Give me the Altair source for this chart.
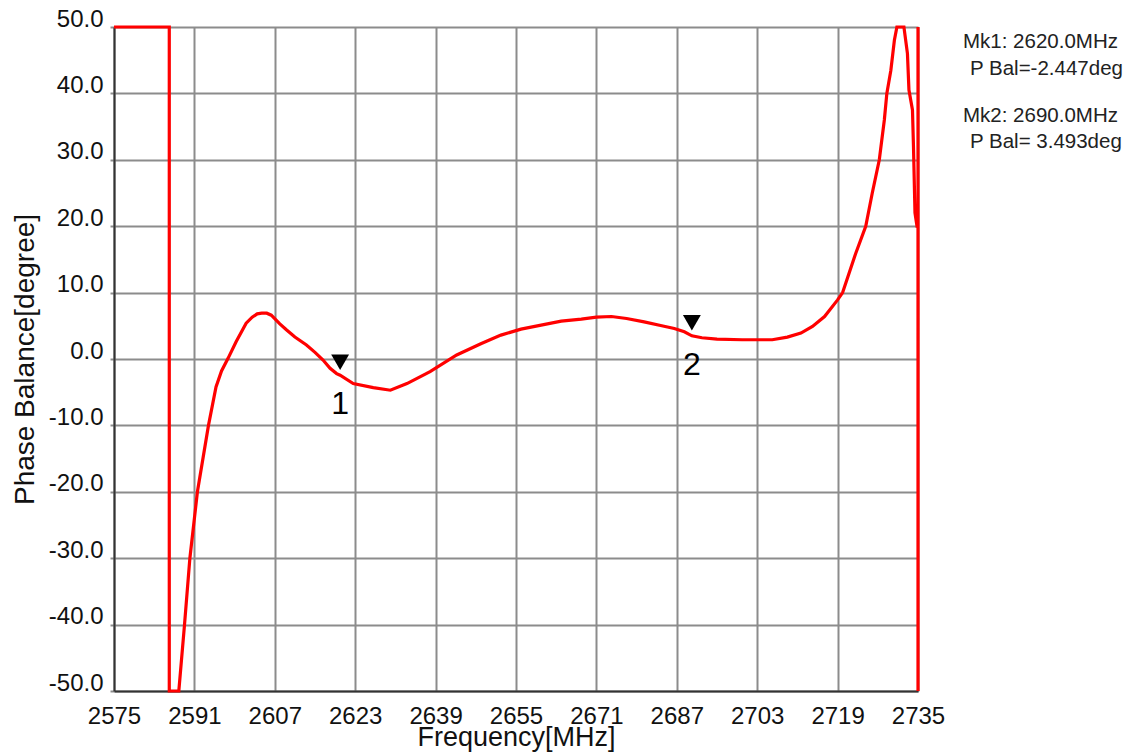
import altair as alt
import pandas as pd

# ---- data ----
freq = [2575.0, 2586.0, 2586.0, 2587.9, 2589.0, 2590.1, 2591.6, 2593.8, 2595.3, 2596.4,
        2597.7, 2599.3, 2601.3, 2602.5, 2603.5, 2604.4, 2605.4, 2606.3, 2608.0, 2609.3,
        2611.0, 2613.3, 2615.0, 2616.6, 2618.0, 2619.3, 2620.0, 2622.6, 2626.6, 2630.0,
        2633.3, 2637.9, 2643.2, 2648.0, 2652.0, 2656.0, 2660.0, 2664.0, 2668.0, 2671.0,
        2674.0, 2677.0, 2680.5, 2684.0, 2686.5, 2688.5, 2690.0, 2692.0, 2695.0, 2700.0,
        2706.0, 2709.0, 2711.7, 2714.0, 2716.4, 2719.0, 2720.0, 2722.6, 2724.6, 2725.9,
        2727.3, 2728.3, 2728.8, 2729.6, 2730.3, 2730.8, 2732.2, 2732.9, 2733.2, 2733.9,
        2734.1, 2734.4, 2734.8, 2735.0, 2735.0, 2735.0]
phase = [50.0, 50.0, -50.0, -50.0, -40.3, -30.0, -20.0, -10.0, -4.2, -1.8,
         0.1, 2.6, 5.4, 6.3, 6.8, 6.9, 6.9, 6.6, 5.3, 4.4,
         3.3, 2.1, 1.0, -0.15, -1.4, -2.2, -2.447, -3.7, -4.3, -4.7,
         -3.7, -1.9, 0.6, 2.3, 3.6, 4.5, 5.1, 5.7, 6.0, 6.3,
         6.4, 6.1, 5.6, 5.0, 4.6, 4.1, 3.493, 3.2, 3.0, 2.9,
         2.9, 3.3, 3.9, 4.9, 6.4, 8.9, 10.0, 15.9, 20.0, 25.0,
         30.0, 36.0, 40.0, 43.5, 48.0, 50.0, 50.0, 46.0, 40.5, 37.5,
         32.0, 22.0, 20.0, 20.0, 50.0, -50.0]

marker_freq = [2620.0, 2690.0]
marker_phase = [-2.447, 3.493]
marker_name = ["1", "2"]

x_ticks = [2575, 2591, 2607, 2623, 2639, 2655, 2671, 2687, 2703, 2719, 2735]
y_ticks = [-50, -40, -30, -20, -10, 0, 10, 20, 30, 40, 50]

mk_lines = []
for i, (f, p) in enumerate(zip(marker_freq, marker_phase), start=1):
    mk_lines.append(f"Mk{i}: {f:.1f}MHz")
    mk_lines.append(f"P Bal={p: .3f}deg")

curve = pd.DataFrame({"freq": freq, "phase": phase, "idx": list(range(len(freq)))})
markers = pd.DataFrame({"freq": marker_freq, "phase": marker_phase, "name": marker_name})

FONT = "Liberation Sans"
x_scale = alt.Scale(domain=[2575, 2735], nice=False, zero=False)
y_scale = alt.Scale(domain=[-50, 50], nice=False, zero=False)

x_axis = alt.Axis(values=x_ticks, format="d", title="Frequency[MHz]",
                  grid=True, gridColor="#8c8c8c", gridWidth=2,
                  tickSize=0, labelPadding=32, labelBaseline="alphabetic",
                  labelFontSize=24, labelFont=FONT, labelColor="#111",
                  labelFlush=False, labelOverlap=False,
                  titleFont=FONT, titleFontSize=27, titleFontWeight="normal",
                  titleColor="#111", titleBaseline="alphabetic", titleY=54,
                  domainColor="#333", domainWidth=2)
y_axis = alt.Axis(values=y_ticks, title="Phase Balance[degree]",
                  labelExpr="datum.value < 0 ? '-' + format(-datum.value, '.1f') : format(datum.value, '.1f')",
                  grid=True, gridColor="#8c8c8c", gridWidth=2,
                  tickSize=4, tickColor="#8c8c8c", tickWidth=2,
                  labelPadding=7, labelBaseline="alphabetic", labelOffset=-1,
                  labelFontSize=24, labelFont=FONT, labelColor="#111",
                  labelFlush=False, labelOverlap=False,
                  titleFont=FONT, titleFontSize=28, titleFontWeight="normal",
                  titleColor="#111", titleBaseline="alphabetic", titleAngle=270,
                  titleX=-81, titleY=332,
                  domainColor="#333", domainWidth=2)

line = alt.Chart(curve).mark_line(color="#ff0000", strokeWidth=3.2).encode(
    x=alt.X("freq:Q", scale=x_scale, axis=x_axis),
    y=alt.Y("phase:Q", scale=y_scale, axis=y_axis),
    order="idx:Q",
)

tri = alt.Chart(markers).mark_point(shape="triangle-down", filled=True, color="black",
                                    opacity=1, size=320, yOffset=-13).encode(
    x=alt.X("freq:Q", scale=x_scale), y=alt.Y("phase:Q", scale=y_scale))

lab = alt.Chart(markers).mark_text(dy=29, fontSize=32, font=FONT, color="black").encode(
    x=alt.X("freq:Q", scale=x_scale), y=alt.Y("phase:Q", scale=y_scale), text="name:N")

ann_layers = []
ann_pos = [(849, 21), (856, 48), (849, 95), (856, 121)]
for s, (px, py) in zip(mk_lines, ann_pos):
    ann_layers.append(
        alt.Chart(pd.DataFrame({"t": [s]})).mark_text(
            align="left", baseline="alphabetic", font=FONT, fontSize=20.5, color="#222"
        ).encode(x=alt.value(px), y=alt.value(py), text="t:N")
    )

chart = alt.layer(line, tri, lab, *ann_layers).properties(
    width=804, height=664,
    padding={"left": 106, "top": 19, "right": 208, "bottom": 62},
    autosize=alt.AutoSizeParams(type="none"),
).configure_view(stroke="#333", strokeWidth=2).configure(background="white")

chart.save("out.html", embed_options={"renderer": "svg", "actions": False})
